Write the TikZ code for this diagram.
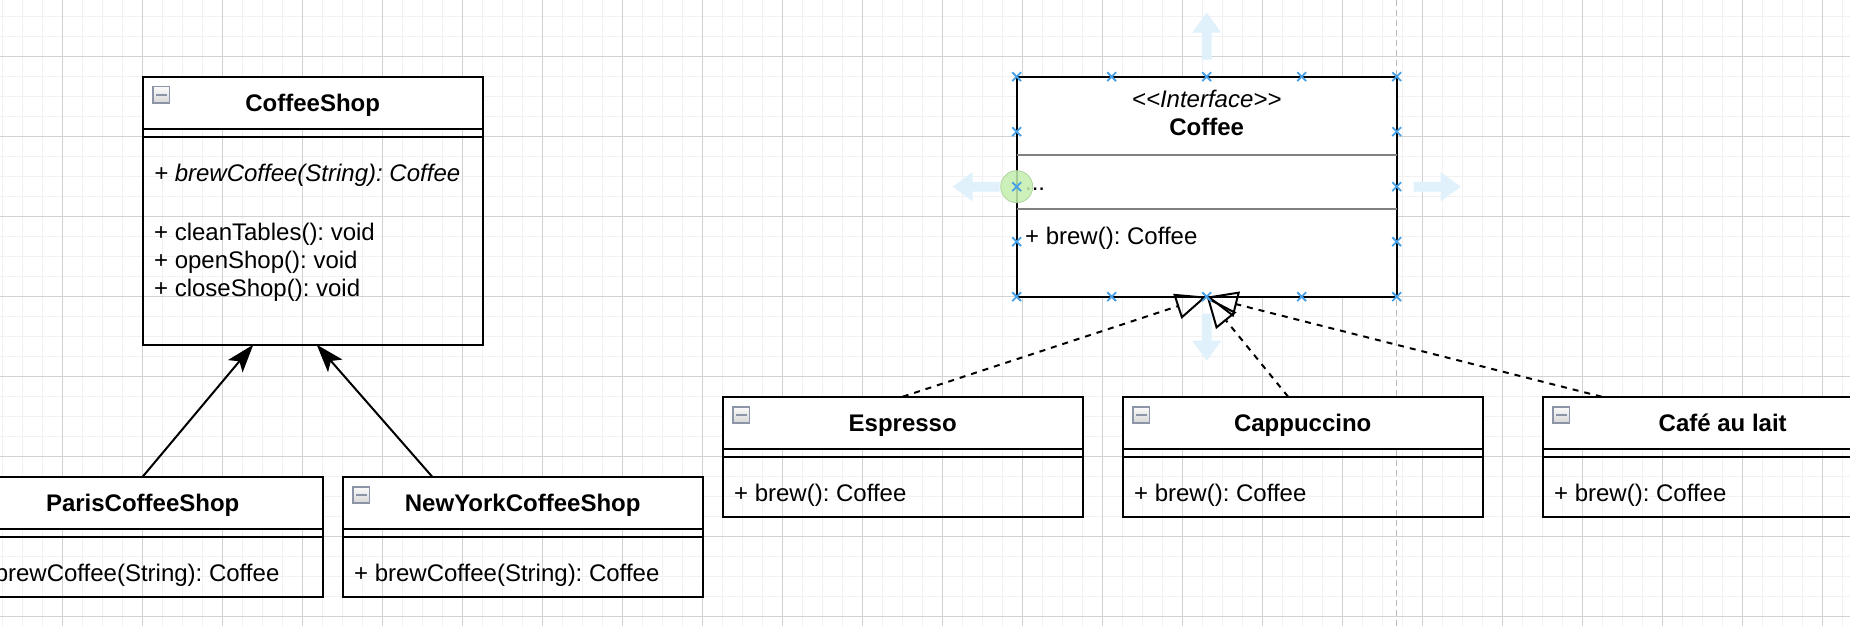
\documentclass[tikz,border=0pt]{standalone}
\usepackage{fontspec}
\setmainfont{Liberation Sans}
\usetikzlibrary{arrows.meta,positioning,calc}

\newcommand{\umlfont}{\fontsize{12pt}{14pt}\selectfont\frenchspacing}

\begin{document}
\begin{tikzpicture}[x=0.5pt, y=-0.5pt, font=\umlfont,
    classhead/.style={draw, fill=white, line width=1pt, inner sep=0pt, outer sep=0pt,
        minimum width=#1, minimum height=26pt, font=\umlfont\bfseries,
        text height=8.6pt, text depth=0pt},
    classhead/.default=180pt,
    classbody/.style={draw, line width=1pt, inner sep=0pt, outer sep=0pt,
        minimum width=#1, minimum height=34pt},
    classbody/.default=180pt,
    classline/.style={line width=1pt},
    member/.style={inner sep=0pt, anchor=west, text height=8.6pt, text depth=0pt},
    collapse/.style={draw=iconedge, line width=0.8pt, top color=gray!3, bottom color=gray!32,
        minimum size=8.2pt, inner sep=0pt, outer sep=0pt, anchor=north west,
        path picture={\draw[line width=1pt] ([xshift=1.4pt]path picture bounding box.west)
            -- ([xshift=-1.4pt]path picture bounding box.east);}},
    extends/.style={line width=1pt, -{Stealth[length=14pt, width=9.5pt, inset=3.2pt]}},
    implements/.style={line width=1pt, dash pattern=on 3pt off 3pt,
        -{Triangle[open, length=15.5pt, width=13pt]}},
    gridline/.style={gridminor, line width=0.7pt},
    gridmain/.style={gridmajor, line width=0.5pt},
    guideline/.style={guide, line width=0.6pt, dash pattern=on 3pt off 2pt},
    hint/.style={fill=hintblue},
    handlemark/.style={handle, line width=0.9pt}
]
    \definecolor{gridminor}{RGB}{241,241,241}
    \definecolor{gridmajor}{RGB}{210,210,210}
    \definecolor{guide}{RGB}{185,185,185}
    \definecolor{iconedge}{RGB}{140,148,168}
    \definecolor{handle}{RGB}{72,160,230}
    \definecolor{hintblue}{RGB}{224,241,252}
    \definecolor{grabgreen}{RGB}{195,238,175}
    \definecolor{sepgray}{RGB}{128,128,128}

    \useasboundingbox (0,0) rectangle (1850,626);
    \clip (0,0) rectangle (1850,626);
    \fill[white] (0,0) rectangle (1850,626);

    \foreach \x in {2.7,22.7,...,1850} \draw[gridline] (\x,0) -- (\x,626);
    \foreach \y in {16.7,36.7,...,626} \draw[gridline] (0,\y) -- (1850,\y);
    \foreach \x in {62.7,142.7,...,1850} \draw[gridmain] (\x,0) -- (\x,626);
    \foreach \y in {56.7,136.7,...,626} \draw[gridmain] (0,\y) -- (1850,\y);

    \draw[guideline] (1396.7,0) -- (1396.7,626);

    % abstract creator
    \node[classhead=170pt, anchor=north west] (shop-head) at (142.7,76.7) {CoffeeShop};
    \node[classbody=170pt, minimum height=108pt, below=0pt of shop-head] (shop) {};
    \draw[classline] ([yshift=-4pt]shop.north west) -- ([yshift=-4pt]shop.north east);
    \node[collapse] (shop-icon) at ([shift={(5.2pt,-5pt)}]shop-head.north west) {};
    \node[member, font=\umlfont\itshape] (shop-abs) at ([xshift=5.5pt, yshift=-21.9pt]shop.north west) {+ brewCoffee(String): Coffee};
    \foreach \op [count=\i] in {cleanTables, openShop, closeShop}
        \node[member] (shop-op\i) at ([xshift=5.5pt, yshift=-37.8pt-14pt*\i]shop.north west) {+ \op(): void};

    % concrete creators
    \foreach \name/\title/\x in {paris/ParisCoffeeShop/-37.3, ny/NewYorkCoffeeShop/342.7} {
        \node[classhead, anchor=north west] (\name-head) at (\x,476.7) {\title};
        \node[classbody, below=0pt of \name-head] (\name) {};
        \draw[classline] ([yshift=-4pt]\name.north west) -- ([yshift=-4pt]\name.north east);
        \node[collapse] (\name-icon) at ([shift={(5.2pt,-5pt)}]\name-head.north west) {};
        \node[member] (\name-op) at ([xshift=5.5pt, yshift=-22pt]\name.north west) {+ brewCoffee(String): Coffee};
    }

    % product interface
    \node[draw, fill=white, line width=1pt, inner sep=0pt, outer sep=0pt,
        minimum width=190pt, minimum height=110pt, anchor=north west] (coffee) at (1016.7,76.7) {};
    \node[member, anchor=center, font=\umlfont\itshape] (coffee-stereo) at ([yshift=-11.15pt]coffee.north) {{<}{<}Interface{>}{>}};
    \node[member, anchor=center, font=\umlfont\bfseries] (coffee-title) at ([yshift=-25.3pt]coffee.north) {Coffee};
    \draw[sepgray, line width=0.8pt] ([yshift=-39.15pt]coffee.north west) -- ([yshift=-39.15pt]coffee.north east);
    \draw[sepgray, line width=0.8pt] ([yshift=-66.15pt]coffee.north west) -- ([yshift=-66.15pt]coffee.north east);
    \node[member, anchor=base west] (coffee-attr) at ([xshift=4pt, yshift=-56.65pt]coffee.north west) {...};
    \node[member] (coffee-op) at ([xshift=4pt, yshift=-79.65pt]coffee.north west) {+ brew(): Coffee};

    % concrete products
    \foreach \name/\title/\x in {esp/Espresso/722.7, cap/Cappuccino/1122.7, cafe/Café au lait/1542.7} {
        \node[classhead, anchor=north west] (\name-head) at (\x,396.7) {\title};
        \node[classbody, below=0pt of \name-head] (\name) {};
        \draw[classline] ([yshift=-4pt]\name.north west) -- ([yshift=-4pt]\name.north east);
        \node[collapse] (\name-icon) at ([shift={(5.2pt,-5pt)}]\name-head.north west) {};
        \node[member] (\name-op) at ([xshift=5.5pt, yshift=-22pt]\name.north west) {+ brew(): Coffee};
    }

    \foreach \anc/\ang in {north/90, south/-90, west/180, east/0}
        \fill[hint, shift={(coffee.\anc)}, rotate=\ang] (8.5pt,-2.4pt) -- (22pt,-2.4pt) -- (22pt,-7.3pt)
            -- (32pt,0pt) -- (22pt,7.3pt) -- (22pt,2.4pt) -- (8.5pt,2.4pt) -- cycle;

    \draw[extends] (paris-head.north) -- ([xshift=55.3pt]shop.south west);
    \draw[extends] ([xshift=44.75pt]ny-head.north west) -- ([xshift=87pt]shop.south west);

    \draw[implements] (esp-head.north) -- (coffee.south);
    \draw[implements] ([xshift=-7.3pt]cap-head.north) -- (coffee.south);
    \draw[implements] ([xshift=-60.5pt]cafe-head.north) -- (coffee.south);

    \draw[draw=grabgreen!85!black!70!grabgreen, fill=grabgreen, fill opacity=0.85] (coffee.west) circle[radius=8pt];

    \foreach \f in {0,0.25,0.5,0.75,1} {
        \draw[handlemark] ($(coffee.north west)!\f!(coffee.north east)$) +(-2.2pt,-2.2pt) -- +(2.2pt,2.2pt) +(-2.2pt,2.2pt) -- +(2.2pt,-2.2pt);
        \draw[handlemark] ($(coffee.south west)!\f!(coffee.south east)$) +(-2.2pt,-2.2pt) -- +(2.2pt,2.2pt) +(-2.2pt,2.2pt) -- +(2.2pt,-2.2pt);
    }
    \foreach \f in {0.25,0.5,0.75} {
        \draw[handlemark] ($(coffee.north west)!\f!(coffee.south west)$) +(-2.2pt,-2.2pt) -- +(2.2pt,2.2pt) +(-2.2pt,2.2pt) -- +(2.2pt,-2.2pt);
        \draw[handlemark] ($(coffee.north east)!\f!(coffee.south east)$) +(-2.2pt,-2.2pt) -- +(2.2pt,2.2pt) +(-2.2pt,2.2pt) -- +(2.2pt,-2.2pt);
    }
\end{tikzpicture}
\end{document}
